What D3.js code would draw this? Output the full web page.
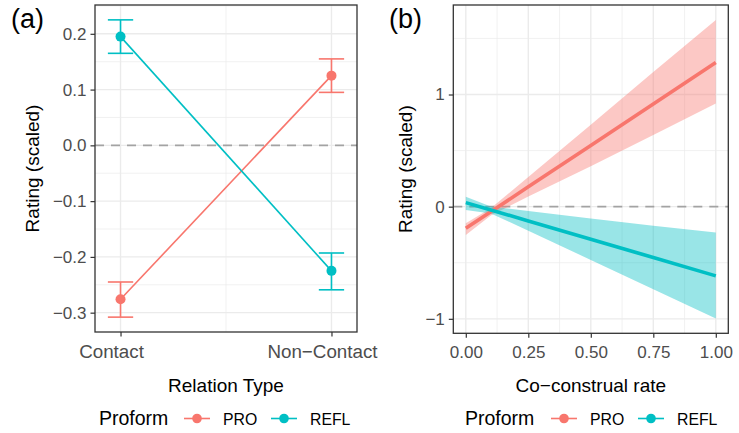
<!DOCTYPE html>
<html><head><meta charset="utf-8">
<script src="https://cdn.jsdelivr.net/npm/d3@7"></script>
<style>body{margin:0;background:#fff}svg{display:block}text{font-family:"Liberation Sans",Arial,Helvetica,sans-serif}</style>
</head><body><svg id="c" width="739" height="433"></svg>
<script>
// ---------- data ----------
const relationTypes = ["Contact", "Non−Contact"];
const proforms = ["PRO", "REFL"];
const colors = ["#F8766D", "#00BFC4"];
// panel (a): means and error bar bounds per proform, per relation type
const aMeanPRO = [-0.276, 0.125];
const aLowPRO = [-0.308, 0.095];
const aHighPRO = [-0.245, 0.155];
const aMeanREFL = [0.195, -0.225];
const aLowREFL = [0.165, -0.259];
const aHighREFL = [0.225, -0.193];
const aYTicks = [-0.3, -0.2, -0.1, 0.0, 0.1, 0.2];
// panel (b): fitted line with confidence ribbon
const bX = [0, 0.1, 0.25, 0.5, 0.75, 1];
const bFitPRO = [-0.193, -0.045, 0.177, 0.546, 0.916, 1.285];
const bLowPRO = [-0.252, -0.078, 0.09, 0.36, 0.64, 0.92];
const bHighPRO = [-0.148, -0.015, 0.265, 0.73, 1.2, 1.665];
const bFitREFL = [0.036, -0.029, -0.127, -0.29, -0.454, -0.617];
const bLowREFL = [-0.029, -0.06, -0.215, -0.475, -0.737, -0.996];
const bHighREFL = [0.089, 0.002, -0.039, -0.105, -0.171, -0.23];
const bXTicks = [0, 0.25, 0.5, 0.75, 1];
const bYTicks = [-1, 0, 1];

const svg = d3.select("#c");
const fmtMinus = s => s.replace("-", "−");
const gridCol = "#EBEBEB", borderCol = "#333333", tickTextCol = "#4D4D4D";

function expandDomain(lo, hi, f) { const r = hi - lo; return [lo - r * f, hi + r * f]; }

function drawZero(g, y, x0, x1) {
  g.append("line").attr("x1", x0).attr("x2", x1).attr("y1", y(0)).attr("y2", y(0))
    .attr("stroke", "#A3A3A3").attr("stroke-width", 1.6).attr("stroke-dasharray", "9,7");
}
function border(g, L, T, R, B) {
  g.append("rect").attr("x", L).attr("y", T).attr("width", R - L).attr("height", B - T)
    .attr("fill", "none").attr("stroke", borderCol).attr("stroke-width", 1.3);
}
function yAxis(g, y, ticks, L, fmt) {
  const ax = d3.axisLeft(y).tickValues(ticks).tickFormat(d => fmtMinus(fmt(d))).tickSize(4.5).tickPadding(4);
  const a = g.append("g").attr("transform", `translate(${L},0)`).call(ax);
  a.select(".domain").remove();
  a.selectAll(".tick line").attr("stroke", borderCol).attr("stroke-width", 1.2);
  a.selectAll(".tick text").attr("fill", tickTextCol).style("font-size", "17px").attr("font-family", null);
}
function xAxis(g, x, ticks, B, fmt, dx, fs) {
  const ax = d3.axisBottom(x).tickFormat(d => fmtMinus(fmt(d))).tickSize(4.5).tickPadding(4);
  if (ticks) ax.tickValues(ticks);
  const a = g.append("g").attr("transform", `translate(0,${B})`).call(ax);
  a.select(".domain").remove();
  a.selectAll(".tick line").attr("stroke", borderCol).attr("stroke-width", 1.2);
  a.selectAll(".tick text").attr("fill", tickTextCol).style("font-size", fs + "px").attr("font-family", null)
    .attr("dy", "0.95em").attr("dx", dx || 0);
}
function legend(g, x0, xs) {
  g.append("text").attr("x", x0).attr("y", 425).style("font-size", "19.5px").text("Proform");
  proforms.forEach((p, i) => {
    const kx = xs[i];
    g.append("line").attr("x1", kx).attr("x2", kx + 26).attr("y1", 418.5).attr("y2", 418.5)
      .attr("stroke", colors[i]).attr("stroke-width", 1.6);
    g.append("circle").attr("cx", kx + 13).attr("cy", 418.5).attr("r", 4.8).attr("fill", colors[i]);
    g.append("text").attr("x", kx + 39).attr("y", 424.5).style("font-size", "15.8px").text(p);
  });
}

// ---------- panel (a) ----------
{
  const L = 95, R = 357, T = 5, B = 332;
  const g = svg.append("g");
  const allA = aLowPRO.concat(aHighPRO, aLowREFL, aHighREFL);
  const y = d3.scaleLinear().domain(expandDomain(d3.min(allA), d3.max(allA), 0.05)).range([B, T]);
  const x = d3.scalePoint().domain(relationTypes).range([L, R]).padding(0.121);
  const step = x.step();
  const minorY = aYTicks.map(t => t + 0.05).concat([aYTicks[0] - 0.05]).filter(v => v >= y.domain()[0] && v <= y.domain()[1]);
  minorY.forEach(v => g.append("line").attr("x1", L).attr("x2", R).attr("y1", y(v)).attr("y2", y(v)).attr("stroke", gridCol).attr("stroke-width", 0.7));
  const midX = (x(relationTypes[0]) + x(relationTypes[1])) / 2;
  g.append("line").attr("x1", midX).attr("x2", midX).attr("y1", T).attr("y2", B).attr("stroke", gridCol).attr("stroke-width", 0.7);
  aYTicks.forEach(v => g.append("line").attr("x1", L).attr("x2", R).attr("y1", y(v)).attr("y2", y(v)).attr("stroke", gridCol).attr("stroke-width", 1.4));
  relationTypes.forEach(c => g.append("line").attr("x1", x(c)).attr("x2", x(c)).attr("y1", T).attr("y2", B).attr("stroke", gridCol).attr("stroke-width", 1.4));
  drawZero(g, y, L, R);
  const series = [
    { mean: aMeanPRO, lo: aLowPRO, hi: aHighPRO },
    { mean: aMeanREFL, lo: aLowREFL, hi: aHighREFL }
  ];
  const cap = step * 0.06;
  series.forEach((s, i) => {
    const col = colors[i];
    g.append("path").attr("d", d3.line().x((d, j) => x(relationTypes[j])).y(d => y(d))(s.mean))
      .attr("fill", "none").attr("stroke", col).attr("stroke-width", 1.6);
    relationTypes.forEach((c, j) => {
      const cx = x(c);
      g.append("line").attr("x1", cx).attr("x2", cx).attr("y1", y(s.lo[j])).attr("y2", y(s.hi[j])).attr("stroke", col).attr("stroke-width", 1.6);
      [s.lo[j], s.hi[j]].forEach(v => g.append("line").attr("x1", cx - cap).attr("x2", cx + cap).attr("y1", y(v)).attr("y2", y(v)).attr("stroke", col).attr("stroke-width", 1.6));
      g.append("circle").attr("cx", cx).attr("cy", y(s.mean[j])).attr("r", 5).attr("fill", col);
    });
  });
  border(g, L, T, R, B);
  yAxis(g, y, aYTicks, L, d3.format(".1f"));
  xAxis(g, x, null, B, d => d, -9.5, 18.8);
  g.append("text").attr("x", (L + R) / 2).attr("y", 392).attr("text-anchor", "middle").style("font-size", "19px").text("Relation Type");
  g.append("text").attr("transform", `translate(39,${(T + B) / 2}) rotate(-90)`).attr("text-anchor", "middle").style("font-size", "19px").text("Rating (scaled)");
  g.append("text").attr("x", 11).attr("y", 28).style("font-size", "27px").text("(a)");
  legend(g, 99, [184, 271]);
}

// ---------- panel (b) ----------
{
  const L = 453.3, R = 728.3, T = 5, B = 333.3;
  const g = svg.append("g");
  const allB = bLowPRO.concat(bHighPRO, bLowREFL, bHighREFL);
  const y = d3.scaleLinear().domain(expandDomain(d3.min(allB), d3.max(allB), 0.05)).range([B, T]);
  const x = d3.scaleLinear().domain(expandDomain(d3.min(bX), d3.max(bX), 0.05)).range([L, R]);
  const minorX = [0.125, 0.375, 0.625, 0.875];
  const minorY = [-0.5, 0.5, 1.5];
  minorX.forEach(v => g.append("line").attr("x1", x(v)).attr("x2", x(v)).attr("y1", T).attr("y2", B).attr("stroke", gridCol).attr("stroke-width", 0.7));
  minorY.forEach(v => g.append("line").attr("x1", L).attr("x2", R).attr("y1", y(v)).attr("y2", y(v)).attr("stroke", gridCol).attr("stroke-width", 0.7));
  bXTicks.forEach(v => g.append("line").attr("x1", x(v)).attr("x2", x(v)).attr("y1", T).attr("y2", B).attr("stroke", gridCol).attr("stroke-width", 1.4));
  bYTicks.forEach(v => g.append("line").attr("x1", L).attr("x2", R).attr("y1", y(v)).attr("y2", y(v)).attr("stroke", gridCol).attr("stroke-width", 1.4));
  drawZero(g, y, L, R);
  const series = [
    { fit: bFitPRO, lo: bLowPRO, hi: bHighPRO },
    { fit: bFitREFL, lo: bLowREFL, hi: bHighREFL }
  ];
  series.forEach((s, i) => {
    const area = d3.area().x((d, j) => x(bX[j])).y0((d, j) => y(s.lo[j])).y1((d, j) => y(s.hi[j]));
    g.append("path").attr("d", area(bX)).attr("fill", colors[i]).attr("fill-opacity", 0.4);
  });
  series.forEach((s, i) => {
    g.append("path").attr("d", d3.line().x((d, j) => x(bX[j])).y(d => y(d))(s.fit))
      .attr("fill", "none").attr("stroke", colors[i]).attr("stroke-width", 3.6);
  });
  border(g, L, T, R, B);
  yAxis(g, y, bYTicks, L, d3.format("d"));
  xAxis(g, x, bXTicks, B, d3.format(".2f"), 0, 17);
  g.append("text").attr("x", (L + R) / 2).attr("y", 392).attr("text-anchor", "middle").style("font-size", "19px").text("Co−construal rate");
  g.append("text").attr("transform", `translate(412,${(T + B) / 2}) rotate(-90)`).attr("text-anchor", "middle").style("font-size", "19px").text("Rating (scaled)");
  g.append("text").attr("x", 389).attr("y", 28).style("font-size", "27px").text("(b)");
  legend(g, 465, [551, 638]);
}
</script></body></html>
